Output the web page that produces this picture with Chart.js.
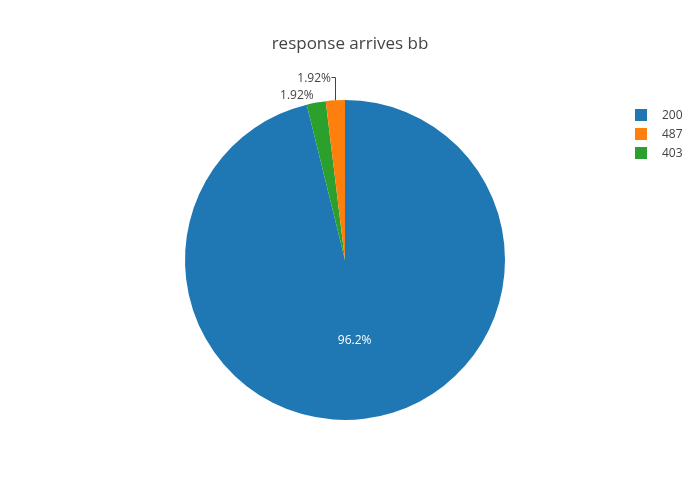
<!DOCTYPE html>
<html>
<head>
<meta charset="utf-8">
<script src="https://cdn.jsdelivr.net/npm/chart.js@4/dist/chart.umd.min.js"></script>
<style>
  html, body { margin:0; padding:0; background:#fff; }
  #wrap { width:700px; height:500px; position:relative; }
</style>
</head>
<body>
<div id="wrap"><canvas id="c" width="700" height="500"></canvas></div>
<script>
// slice order as drawn clockwise from 12 o'clock
const codes = ['200', '403', '487'];
const counts = [50, 1, 1];
const colors = ['#1f77b4', '#2ca02c', '#ff7f0e'];
// legend order
const legendOrder = ['200', '487', '403'];
const titleText = 'response arrives bb';

const FONT = '"Open Sans", "DejaVu Sans", sans-serif';

const decor = {
  id:'decor',
  afterDraw(chart){
    const ctx = chart.ctx;
    const meta = chart.getDatasetMeta(0);
    const total = counts.reduce((a,b)=>a+b,0);
    ctx.save();

    // title
    ctx.fillStyle = '#444';
    ctx.font = '17px ' + FONT;
    ctx.textAlign = 'center';
    ctx.textBaseline = 'middle';
    ctx.fillText(titleText, chart.width/2, 44.5);

    // slice labels
    meta.data.forEach((arc, i)=>{
      const p = arc.getProps(['x','y','startAngle','endAngle','outerRadius']);
      const mid = (p.startAngle + p.endAngle)/2;
      const pct = counts[i]/total*100;
      const txt = (pct >= 10 ? pct.toFixed(1) : pct.toFixed(2)) + '%';
      ctx.font = '12px ' + FONT;
      ctx.textBaseline = 'middle';
      if (pct > 10) {
        ctx.fillStyle = '#fff';
        ctx.textAlign = 'center';
        ctx.fillText(txt, p.x + Math.cos(mid)*p.outerRadius*0.5, p.y + Math.sin(mid)*p.outerRadius*0.5 + 1);
      } else if (i === meta.data.length - 1) {
        // label with leader line
        const ox = p.x + Math.cos(mid)*p.outerRadius;
        const oy = p.y + Math.sin(mid)*p.outerRadius;
        const ly = p.y - p.outerRadius - 23;
        ctx.strokeStyle = '#444';
        ctx.lineWidth = 1;
        ctx.beginPath();
        ctx.moveTo(Math.round(ox)+0.5, oy);
        ctx.lineTo(Math.round(ox)+0.5, ly+0.5);
        ctx.lineTo(Math.round(ox)-3.5, ly+0.5);
        ctx.stroke();
        ctx.fillStyle = '#444';
        ctx.textAlign = 'right';
        ctx.fillText(txt, Math.round(ox)-4, ly + 1.5);
      } else {
        const r = p.outerRadius + 8;
        ctx.fillStyle = '#444';
        ctx.textAlign = 'right';
        ctx.fillText(txt, p.x + Math.cos(mid)*r - 1, p.y + Math.sin(mid)*r + 1);
      }
    });

    // legend
    legendOrder.forEach((code, k)=>{
      const i = codes.indexOf(code);
      const y = 115 + k*19;
      ctx.fillStyle = colors[i];
      ctx.fillRect(635, y-6, 12, 12);
      ctx.fillStyle = '#444';
      ctx.font = '12px ' + FONT;
      ctx.textAlign = 'left';
      ctx.textBaseline = 'middle';
      ctx.fillText(code, 662, y + 0.5);
    });
    ctx.restore();
  }
};

new Chart(document.getElementById('c'), {
  type:'pie',
  data:{
    labels: codes,
    datasets:[{ data: counts, backgroundColor: colors, borderWidth: 0 }]
  },
  options:{
    responsive:false,
    animation:false,
    layout:{ padding:{ left:185, right:195, top:100, bottom:80 } },
    plugins:{
      legend:{ display:false },
      title:{ display:false },
      tooltip:{ enabled:false }
    }
  },
  plugins:[decor]
});
</script>
</body>
</html>
